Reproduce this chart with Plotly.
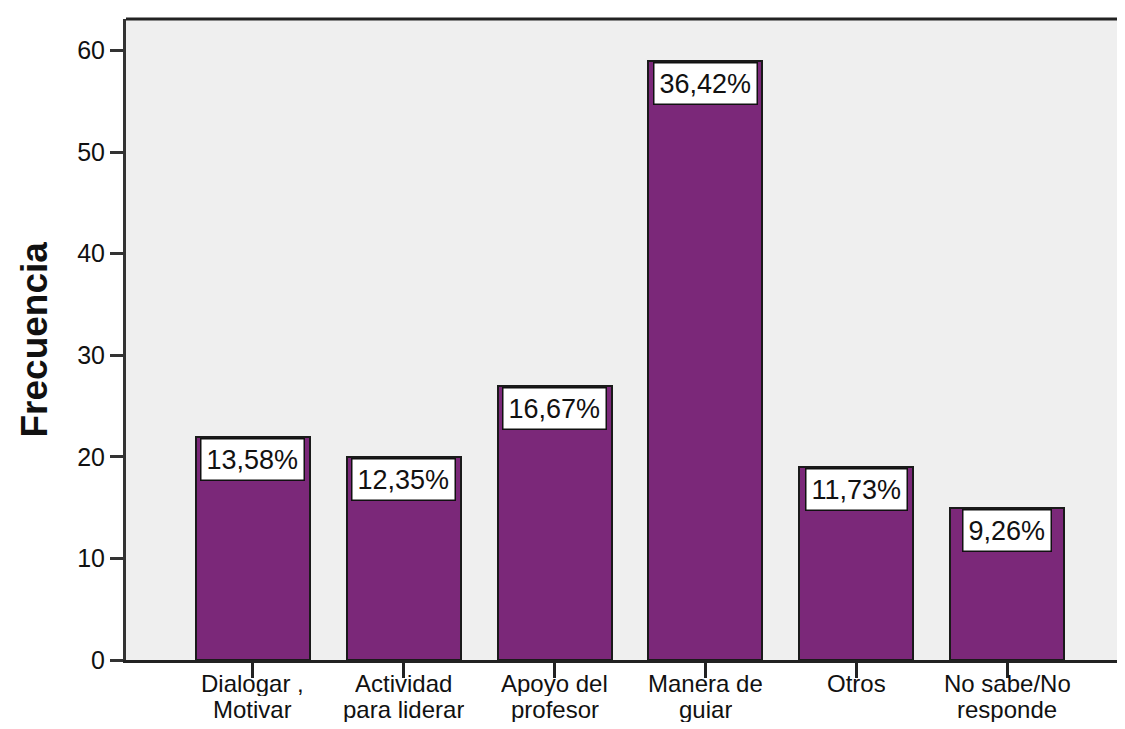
import plotly.graph_objects as go

categories = ["Dialogar ,<br>Motivar", "Actividad<br>para liderar", "Apoyo del<br>profesor",
              "Manera de<br>guiar", "Otros", "No sabe/No<br>responde"]
frecuencia = [22, 20, 27, 59, 19, 15]
y_ticks = [0, 10, 20, 30, 40, 50, 60]

total = sum(frecuencia)
pct_labels = [f"{v / total * 100:.2f}".replace(".", ",") + "%" for v in frecuencia]

FONT = "Liberation Sans, Arial, sans-serif"
BAR = "#7B2879"
INK = "#111111"

fig = go.Figure()
fig.add_trace(go.Bar(
    x=list(range(len(categories))), y=frecuencia, width=0.755,
    marker=dict(color=BAR, line=dict(color="#1a1a1a", width=2)),
    hoverinfo="skip",
))

# percentage labels in white boxes at bar tops
for i, (v, t) in enumerate(zip(frecuencia, pct_labels)):
    fig.add_annotation(x=i, y=v, xref="x", yref="y", text=t, showarrow=False,
                       yanchor="top", xanchor="center", yshift=-1,
                       bgcolor="white", bordercolor=INK, borderwidth=1.5, borderpad=5,
                       font=dict(family=FONT, size=27, color=INK))

# category labels (tight line spacing like the original)
LINE_H = 26
for i, lab in enumerate(categories):
    for j, line in enumerate(lab.split("<br>")):
        fig.add_annotation(x=i, y=0, xref="x", yref="paper", text=line, showarrow=False,
                           yanchor="top", xanchor="center", yshift=-9 - LINE_H * j,
                           borderpad=0, height=LINE_H, valign="middle",
                           font=dict(family=FONT, size=24, color=INK))

fig.add_annotation(xref="paper", yref="paper", x=0, y=0.5, xshift=-92, text="<b>Frecuencia</b>",
                   textangle=-90, showarrow=False, xanchor="center", yanchor="middle",
                   font=dict(family=FONT, size=37, color=INK))

fig.update_layout(
    width=1125, height=729,
    margin=dict(l=118, r=2, t=11, b=77),
    paper_bgcolor="white", plot_bgcolor="#EFEFEF",
    showlegend=False, bargap=0,
    font=dict(family=FONT, size=25, color=INK),
)
fig.update_xaxes(
    range=[-0.84, 5.82], tickmode="array", tickvals=list(range(len(categories))),
    showticklabels=False, ticks="outside", ticklen=15, tickwidth=2.5, tickcolor="#222",
    showline=True, linecolor="#222", linewidth=2.5, mirror=False,
    showgrid=False, zeroline=False,
)
fig.update_yaxes(
    range=[0, 63.1], tickmode="array", tickvals=y_ticks, ticks="outside", ticklen=13,
    tickwidth=3, tickcolor="#333", showline=True, linecolor="#333", linewidth=3,
    showgrid=False, zeroline=False, tickfont=dict(family=FONT, size=25, color=INK),
)
fig.add_shape(type="line", xref="paper", yref="paper", x0=0, x1=1, y0=1, y1=1,
              line=dict(color="#222", width=3))

fig.write_html("out.html")
